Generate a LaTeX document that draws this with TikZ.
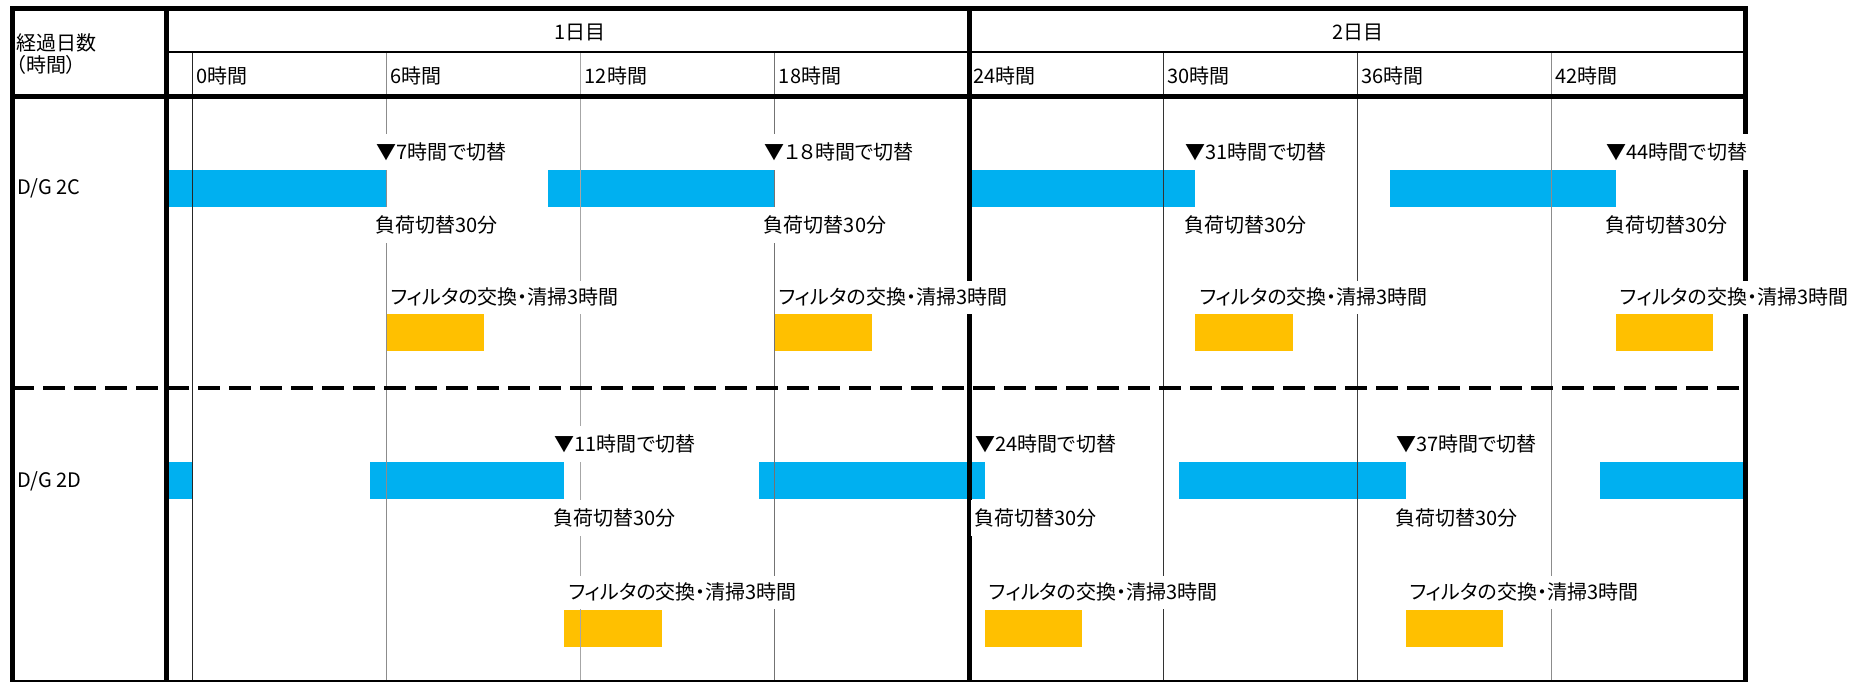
\documentclass[tikz,border=0pt]{standalone}
\usepackage{fontspec}
\setmainfont[RawFeature=+palt]{Noto Sans CJK JP}
\definecolor{runblue}{RGB}{0,176,240}
\definecolor{cleanorange}{RGB}{255,192,0}
\def\Z{192.3}
\def\H{32.36}
\begin{document}
\begin{tikzpicture}[x=1pt,y=-1pt,
  txt/.style={font=\fontsize{20}{22}\selectfont},
  lbl/.style={txt,anchor=west,inner sep=0pt},
  note/.style={txt,anchor=west,fill=white,inner xsep=3pt,inner ysep=0pt,minimum height=36pt},
  fnote/.style={note,minimum height=33pt},
  runbar/.style={fill=runblue},
  cleanbar/.style={fill=cleanorange},
  thickline/.style={line width=5pt,line cap=rect},
  midline/.style={line width=2.8pt},
  gridline/.style={line width=1pt},
  bottomline/.style={line width=1.5pt},
  dashline/.style={line width=4pt,dash pattern=on 22pt off 9pt}]
\useasboundingbox (0,0) rectangle (1870,682);
% bars D/G 2C
\fill[runbar] (168,170) rectangle ({\Z+\H*6},207);
\fill[runbar] ({\Z+\H*11},170) rectangle ({\Z+\H*18},207);
\fill[runbar] ({\Z+\H*24},170) rectangle ({\Z+\H*31},207);
\fill[runbar] ({\Z+\H*37},170) rectangle ({\Z+\H*44},207);
\fill[cleanbar] ({\Z+\H*6},314) rectangle ({\Z+\H*9},351);
\fill[cleanbar] ({\Z+\H*18},314) rectangle ({\Z+\H*21},351);
\fill[cleanbar] ({\Z+\H*31},314) rectangle ({\Z+\H*34},351);
\fill[cleanbar] ({\Z+\H*44},314) rectangle ({\Z+\H*47},351);
% bars D/G 2D
\fill[runbar] (168,462) rectangle ({\Z},499);
\fill[runbar] ({\Z+\H*5.5},462) rectangle ({\Z+\H*11.5},499);
\fill[runbar] ({\Z+\H*17.5},462) rectangle ({\Z+\H*24.5},499);
\fill[runbar] ({\Z+\H*30.5},462) rectangle ({\Z+\H*37.5},499);
\fill[runbar] ({\Z+\H*43.5},462) rectangle (1743,499);
\fill[cleanbar] ({\Z+\H*11.5},610) rectangle ({\Z+\H*14.5},647);
\fill[cleanbar] ({\Z+\H*24.5},610) rectangle ({\Z+\H*27.5},647);
\fill[cleanbar] ({\Z+\H*37.5},610) rectangle ({\Z+\H*40.5},647);
% hour grid lines
\foreach \h/\c in {0/black!85,6/black!45,12/black!35,18/black!55,30/black!80,36/black!75,42/black!45}
  \draw[gridline,draw=\c] ({\Z+\H*\h},52) -- ({\Z+\H*\h},681);
% frame
\draw[thickline] (12.3,8.8) -- (1745.5,8.8);
\draw[thickline] (12.3,96.7) -- (1745.5,96.7);
\draw[midline] (166.5,52) -- (1745.5,52);
\draw[thickline] (12.3,8.8) -- (12.3,682);
\draw[thickline] (166.5,8.8) -- (166.5,682);
\draw[thickline] (969.3,8.8) -- (969.3,682);
\draw[thickline] (1745.5,8.8) -- (1745.5,682);
\draw[bottomline] (12.3,681) -- (1745.5,681);
\draw[dashline] (12.3,388) -- (1743,388);
% header texts
\node[lbl] (hdA) at (16,43) {経過日数};
\node[lbl] (hdB) at (16,65) {（時間）};
\node[txt,inner sep=0pt] (day1) at (580,32) {1日目};
\node[txt,inner sep=0pt] (day2) at (1358,32) {2日目};
\foreach \h in {0,6,12,18,24,30,36,42}
  \node[lbl] (hr\h) at ({\Z+\H*\h+4},76) {{\h}時間};
% row labels
\node[lbl] (rowC) at (17,188) {D/G 2C};
\node[lbl] (rowD) at (17,481) {D/G 2D};
% notes D/G 2C
\node[note] (sC1) at ({\Z+\H*6-13},152) {▼7時間で切替};
\node[note] (lC1) at ({\Z+\H*6-14},225) {負荷切替30分};
\node[fnote] (fC1) at ({\Z+\H*6+1},297) {フィルタの交換・清掃3時間};
\node[note] (sC2) at ({\Z+\H*18-13},152) {▼１８時間で切替};
\node[note] (lC2) at ({\Z+\H*18-14},225) {負荷切替30分};
\node[fnote] (fC2) at ({\Z+\H*18+1},297) {フィルタの交換・清掃3時間};
\node[note] (sC3) at ({\Z+\H*31-13},152) {▼31時間で切替};
\node[note] (lC3) at ({\Z+\H*31-14},225) {負荷切替30分};
\node[fnote] (fC3) at ({\Z+\H*31+1},297) {フィルタの交換・清掃3時間};
\node[note] (sC4) at ({\Z+\H*44-13},152) {▼44時間で切替};
\node[note] (lC4) at ({\Z+\H*44-14},225) {負荷切替30分};
\node[fnote] (fC4) at ({\Z+\H*44+1},297) {フィルタの交換・清掃3時間};
% notes D/G 2D
\node[note] (sD1) at ({\Z+\H*11.5-13},444) {▼11時間で切替};
\node[note] (lD1) at ({\Z+\H*11.5-14},518) {負荷切替30分};
\node[fnote] (fD1) at ({\Z+\H*11.5+1},592) {フィルタの交換・清掃3時間};
\node[note] (sD2) at ({\Z+\H*24.5-13},444) {▼24時間で切替};
\node[note] (lD2) at ({\Z+\H*24.5-14},518) {負荷切替30分};
\node[fnote] (fD2) at ({\Z+\H*24.5+1},592) {フィルタの交換・清掃3時間};
\node[note] (sD3) at ({\Z+\H*37.5-13},444) {▼37時間で切替};
\node[note] (lD3) at ({\Z+\H*37.5-14},518) {負荷切替30分};
\node[fnote] (fD3) at ({\Z+\H*37.5+1},592) {フィルタの交換・清掃3時間};
\end{tikzpicture}
\end{document}
